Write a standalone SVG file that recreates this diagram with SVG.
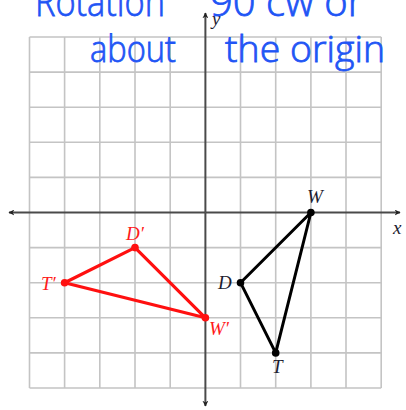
<svg xmlns="http://www.w3.org/2000/svg" width="406" height="410" viewBox="0 0 406 410">
<style>
.grid{stroke:#c4c4c4;stroke-width:1.6;fill:none}
.axis{stroke:#4a4a4a;stroke-width:2;fill:none}
.hand{font-family:"Open Sans",sans-serif;fill:#1f55f5;stroke:#1f55f5;stroke-width:0.8;font-weight:300}
.lbl{font-family:"Liberation Serif",serif;font-style:italic;font-size:19px;fill:#1c1c30}
.lblr{font-family:"Liberation Serif",serif;font-style:italic;font-size:19px;fill:#ff1a1a}
.blk{stroke:#000;stroke-width:3;fill:none;stroke-linejoin:round}
.red{stroke:#ff1010;stroke-width:3.2;fill:none;stroke-linejoin:round}
</style>
<defs>
<marker id="ah" viewBox="0 0 10 10" refX="9" refY="5" markerWidth="6" markerHeight="6" orient="auto" markerUnits="userSpaceOnUse">
<path d="M0,0 L10,5 L0,10 L3,5 Z" fill="#222"/>
</marker>
</defs>
<rect width="406" height="410" fill="#fff"/>
<g id="grid">
<path class="grid" d="M29.5,37V388M64.6,37V388M99.8,37V388M135,37V388M170.2,37V388M240.5,37V388M275.7,37V388M310.9,37V388M346,37V388M381.2,37V388"/>
<path class="grid" d="M29.5,37H381.2M29.5,72.1H381.2M29.5,107.2H381.2M29.5,142.3H381.2M29.5,177.4H381.2M29.5,247.6H381.2M29.5,282.7H381.2M29.5,317.8H381.2M29.5,352.9H381.2M29.5,388H381.2"/>
</g>
<g id="axes">
<line class="axis" x1="205.4" y1="212.5" x2="9" y2="212.5" marker-end="url(#ah)"/>
<line class="axis" x1="205.4" y1="212.5" x2="400" y2="212.5" marker-end="url(#ah)"/>
<line class="axis" x1="205.4" y1="212.5" x2="205.4" y2="13" marker-end="url(#ah)"/>
<line class="axis" x1="205.4" y1="212.5" x2="205.4" y2="406" marker-end="url(#ah)"/>
<text class="lbl" x="212" y="25" font-size="16">y</text>
<text class="lbl" x="393" y="234">x</text>
</g>
<g id="title">
<text class="hand" x="35" y="16" font-size="40" textLength="130" lengthAdjust="spacingAndGlyphs">Rotation</text>
<text class="hand" x="210" y="16" font-size="40">90°</text>
<text class="hand" x="266" y="16" font-size="40">cw or</text>
<text class="hand" x="90" y="62" font-size="36" textLength="86" lengthAdjust="spacingAndGlyphs">about</text>
<text class="hand" x="225" y="62" font-size="36" textLength="160" lengthAdjust="spacingAndGlyphs">the origin</text>
</g>
<g id="connectors">
<polygon class="blk" points="310.9,212.5 240.5,282.7 275.7,352.9"/>
<polygon class="red" points="135,247.6 64.6,282.7 205.4,317.8"/>
</g>
<g id="W"><circle cx="310.9" cy="212.5" r="3.8" fill="#000"/><text class="lbl" x="307" y="203">W</text></g>
<g id="D"><circle cx="240.5" cy="282.7" r="3.8" fill="#000"/><text class="lbl" x="218" y="289">D</text></g>
<g id="T"><circle cx="275.7" cy="352.9" r="3.8" fill="#000"/><text class="lbl" x="272" y="373">T</text></g>
<g id="Dp"><circle cx="135" cy="247.6" r="3.8" fill="#ff1010"/><text class="lblr" x="126" y="240">D′</text></g>
<g id="Tp"><circle cx="64.6" cy="282.7" r="3.8" fill="#ff1010"/><text class="lblr" x="41" y="290">T′</text></g>
<g id="Wp"><circle cx="205.4" cy="317.8" r="3.8" fill="#ff1010"/><text class="lblr" x="209" y="335">W′</text></g>
</svg>
